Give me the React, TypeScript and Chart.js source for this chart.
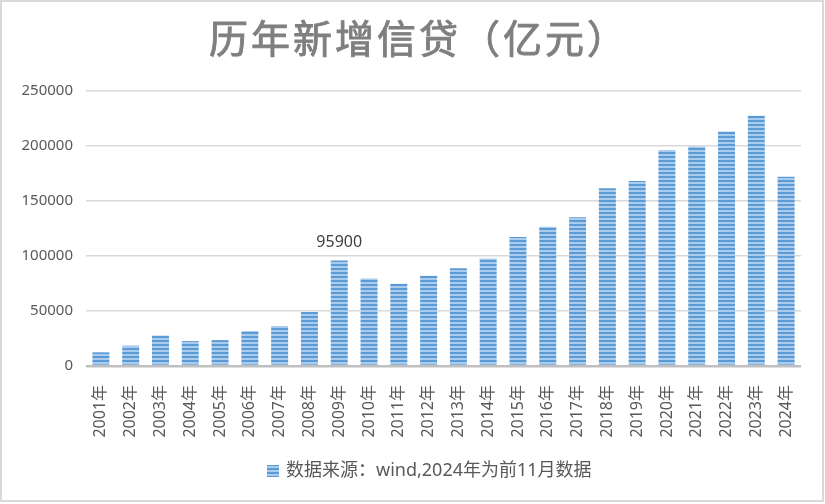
import React, { useEffect, useRef } from "react";
import { Chart, registerables } from "chart.js";

Chart.register(...registerables);

const categories = [
  "2001年", "2002年", "2003年", "2004年", "2005年", "2006年", "2007年", "2008年",
  "2009年", "2010年", "2011年", "2012年", "2013年", "2014年", "2015年", "2016年",
  "2017年", "2018年", "2019年", "2020年", "2021年", "2022年", "2023年", "2024年",
];
const newLoans = [
  12439, 18475, 27702, 22648, 23544, 31800, 36300, 49100,
  95900, 79500, 74700, 82000, 88900, 97800, 117200, 126500,
  135300, 161700, 168100, 196300, 199500, 213100, 227500, 172000,
];
const seriesLabel = "数据来源：wind,2024年为前11月数据";
const titleText = "历年新增信贷（亿元）";
const labeledIndex = 8; // 2009

const FONT = "'Noto Sans', 'Noto Sans CJK SC', sans-serif";

function makePattern(): CanvasPattern | string {
  const c = document.createElement("canvas");
  c.width = 8;
  c.height = 4;
  const g = c.getContext("2d");
  if (!g) return "#5b9bd5";
  g.fillStyle = "#5b9bd5";
  g.fillRect(0, 0, 8, 2);
  g.fillStyle = "#aacbeb";
  g.fillRect(0, 2, 8, 2);
  const p = g.createPattern(c, "repeat");
  return p || "#5b9bd5";
}

const decorPlugin = {
  id: "decor",
  afterDraw(chart: any) {
    const ctx = chart.ctx;
    ctx.save();
    // outer frame
    ctx.strokeStyle = "#d9d9d9";
    ctx.lineWidth = 2;
    ctx.strokeRect(1, 1, 822, 500);
    // title
    ctx.font = `normal 39px 'Noto Sans CJK SC', sans-serif`;
    ctx.fillStyle = "#7f7f7f";
    ctx.strokeStyle = "#7f7f7f";
    ctx.lineWidth = 0.9;
    ctx.textAlign = "left";
    ctx.textBaseline = "middle";
    try {
      (ctx as any).letterSpacing = "3px";
    } catch (e) {}
    ctx.fillText(titleText, 209, 38);
    ctx.strokeText(titleText, 209, 38);
    ctx.restore();

    // legend (single series)
    const ds = chart.data.datasets[0];
    ctx.save();
    ctx.fillStyle = ds.backgroundColor;
    ctx.fillRect(267, 465, 12, 12);
    ctx.font = `18px ${FONT}`;
    ctx.fillStyle = "#595959";
    ctx.textAlign = "left";
    ctx.textBaseline = "middle";
    ctx.fillText(String(ds.label), 286, 471);
    ctx.restore();
  },
  afterDatasetsDraw(chart: any) {
    const meta = chart.getDatasetMeta(0);
    const el = meta.data[labeledIndex];
    if (!el) return;
    const ctx = chart.ctx;
    ctx.save();
    ctx.font = `16px ${FONT}`;
    ctx.fillStyle = "#404040";
    ctx.textAlign = "center";
    ctx.textBaseline = "alphabetic";
    ctx.fillText(String(newLoans[labeledIndex]), el.x, el.y - 14);
    ctx.restore();
  },
};

export default function App() {
  const ref = useRef<HTMLCanvasElement | null>(null);

  useEffect(() => {
    document.body.style.margin = "0";
    const canvas = ref.current;
    if (!canvas) return;
    const pattern = makePattern();
    const chart = new Chart(canvas, {
      type: "bar",
      data: {
        labels: categories,
        datasets: [
          {
            label: seriesLabel,
            data: newLoans,
            backgroundColor: pattern as any,
            borderWidth: 0,
            categoryPercentage: 1,
            barPercentage: 0.57,
          },
        ],
      },
      options: {
        responsive: false,
        animation: false,
        devicePixelRatio: 1,
        layout: { padding: { left: 0, right: 24, top: 91, bottom: 52 } },
        plugins: {
          title: { display: false },
          legend: { display: false },
          tooltip: { enabled: false },
        },
        scales: {
          x: {
            grid: { display: false },
            border: { display: false },
            ticks: {
              color: "#595959",
              font: { family: FONT, size: 16 },
              minRotation: 90,
              maxRotation: 90,
              padding: 11,
              autoSkip: false,
            },
            afterFit(scale: any) {
              scale.height = 86;
            },
          },
          y: {
            min: 0,
            max: 250000,
            border: { display: false },
            grid: {
              drawTicks: false,
              color: (c: any) => (c.tick && c.tick.value === 0 ? "#bfbfbf" : "#d9d9d9"),
              lineWidth: (c: any) => (c.tick && c.tick.value === 0 ? 2.5 : 1.5),
            },
            ticks: {
              stepSize: 50000,
              color: "#595959",
              font: { family: FONT, size: 15 },
              padding: 13,
              callback: (v: any) => String(v),
            },
            afterFit(scale: any) {
              scale.width = 86;
            },
          },
        },
      },
      plugins: [decorPlugin],
    });
    return () => chart.destroy();
  }, []);

  return (
    <div style={{ width: 825, height: 504, background: "#fff" }}>
      <canvas ref={ref} width={825} height={504} style={{ display: "block", width: 825, height: 504 }} />
    </div>
  );
}
